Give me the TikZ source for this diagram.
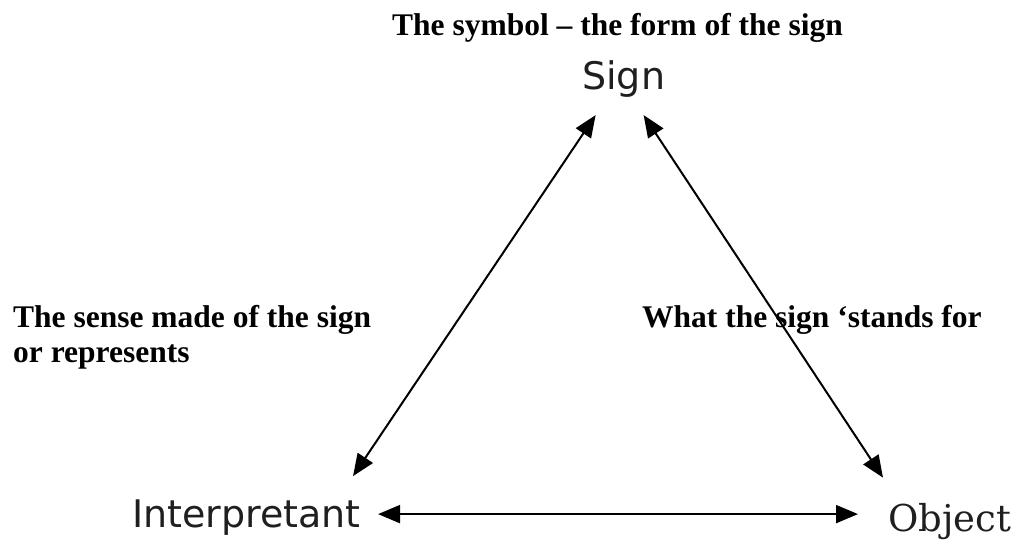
\documentclass[tikz,border=0pt]{standalone}
\usepackage{fontspec}
\setmainfont{Liberation Serif}
\newfontfamily\termsans{DejaVu Sans}
\newfontfamily\termserif{DejaVu Serif}
\usetikzlibrary{arrows.meta,positioning,calc}

\begin{document}
\begin{tikzpicture}[x=1pt,y=-1pt,
    note/.style={font=\fontsize{31.5}{35}\selectfont\bfseries,inner sep=0pt,anchor=base west,align=left},
    term/.style={font=\termsans\fontsize{38}{44}\selectfont,text=black!88,inner sep=0pt,anchor=base west},
    link/.style={line width=2pt,{Triangle[length=22pt,width=18pt]}-{Triangle[length=22pt,width=18pt]}}]
  \useasboundingbox (0,0) rectangle (1021,539);
  % Notes
  \node[note] (symbolnote) at (392,35) {The symbol -- the form of the sign};
  \node[note] (sensenote) at (13,362) {The sense made of the sign\\or represents};
  \node[note] (standsnote) at (642,327) {What the sign `stands for};
  % Terms
  \node[term] (sign) at (582,89) {Sign};
  \node[term] (interp) at (132,527) {Interpretant};
  \node[term,font=\termserif\fontsize{37}{44}\selectfont] (object) at (888,531) {Object};
  % Arrows
  \draw[link] ($(sign.south)+(-28,18)$) -- ($(interp.north east)+(-8,-23)$);
  \draw[link] ($(sign.south)+(20,18)$) -- ($(object.north west)+(-5,-25)$);
  \draw[link,shorten <=17pt,shorten >=30pt] ([yshift=3pt]interp.east) -- ([yshift=3pt]interp.east -| object.west);
\end{tikzpicture}
\end{document}
